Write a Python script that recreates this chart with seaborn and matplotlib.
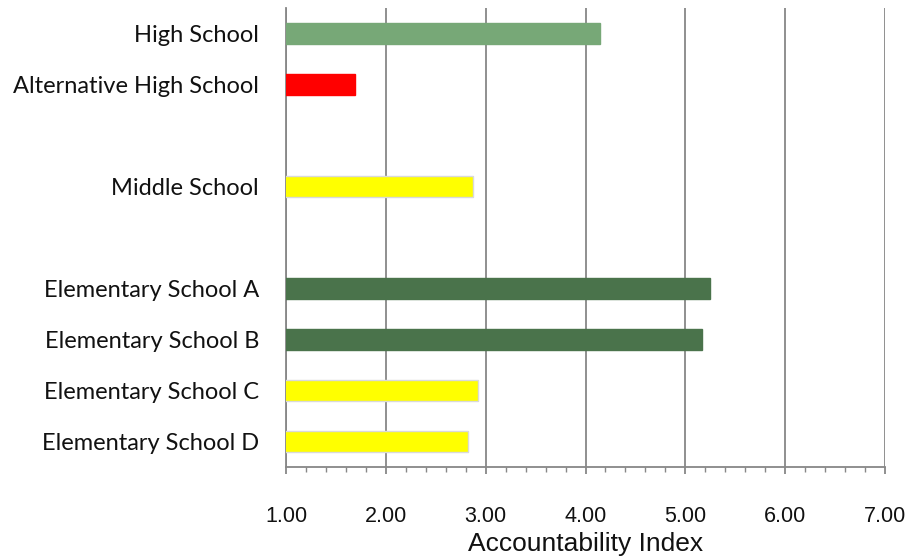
import matplotlib
matplotlib.use("Agg")
import matplotlib.pyplot as plt
import seaborn as sns
import pandas as pd
import numpy as np
from matplotlib.ticker import MultipleLocator

# Schools (blank slots separate the school levels)
schools = ["High School", "Alternative High School", " ",
           "Middle School", "  ",
           "Elementary School A", "Elementary School B",
           "Elementary School C", "Elementary School D"]
index_values = [4.15, 1.69, np.nan, 2.87, np.nan, 5.25, 5.17, 2.92, 2.82]
bar_colors = ["#77a877", "#ff0000", "#ffffff", "#ffff00", "#ffffff",
              "#4a734b", "#4a734b", "#ffff00", "#ffff00"]
x_ticks = [1, 2, 3, 4, 5, 6, 7]

df = pd.DataFrame({"school": schools, "index": index_values})

sns.set_style("white")
fig = plt.figure(figsize=(9.09, 5.58), dpi=100)
ax = fig.add_axes([286 / 909, 1 - 467 / 558, 599 / 909, 459 / 558])

sns.barplot(data=df, x="index", y="school", order=schools, hue="school",
            palette=dict(zip(schools, bar_colors)), legend=False,
            saturation=1, width=0.4, ax=ax, zorder=3)

grid_c = "#878787"
drawn_colors = [c for c, v in zip(bar_colors, index_values) if not np.isnan(v)]
for patch, col in zip(ax.patches, drawn_colors):
    patch.set_edgecolor("#d9d9d9" if col == "#ffff00" else col)
    patch.set_linewidth(1.0)

ax.set_xlim(1, 7)
ax.set_ylim(8.5, -0.5)
ax.set_xticks(x_ticks)
ax.set_xticklabels([f"{t:.2f}" for t in x_ticks],
                   family="Liberation Sans", fontsize=15.5)
ax.xaxis.set_minor_locator(MultipleLocator(0.2))
ax.grid(axis="x", which="major", color=grid_c, linewidth=1.3, zorder=0)
ax.set_axisbelow(True)

ax.tick_params(axis="x", which="major", bottom=True, direction="out",
               length=5, width=1.3, color=grid_c, pad=23)
ax.tick_params(axis="x", which="minor", bottom=True, direction="out",
               length=3.5, width=1.0, color=grid_c)
ax.tick_params(axis="y", left=False, length=0, pad=19.5)
for lbl in ax.get_yticklabels():
    lbl.set_family("Lato")
    lbl.set_fontsize(17)
    lbl.set_color("#111111")
for lbl in ax.get_xticklabels():
    lbl.set_color("#111111")

for side in ["top", "right"]:
    ax.spines[side].set_visible(False)
for side in ["left", "bottom"]:
    ax.spines[side].set_color(grid_c)
    ax.spines[side].set_linewidth(1.3)

ax.set_ylabel("")
ax.set_xlabel("Accountability Index", family="Liberation Sans",
              fontsize=19, labelpad=3.5, color="#111111")

fig.savefig("out.png", dpi=100)
